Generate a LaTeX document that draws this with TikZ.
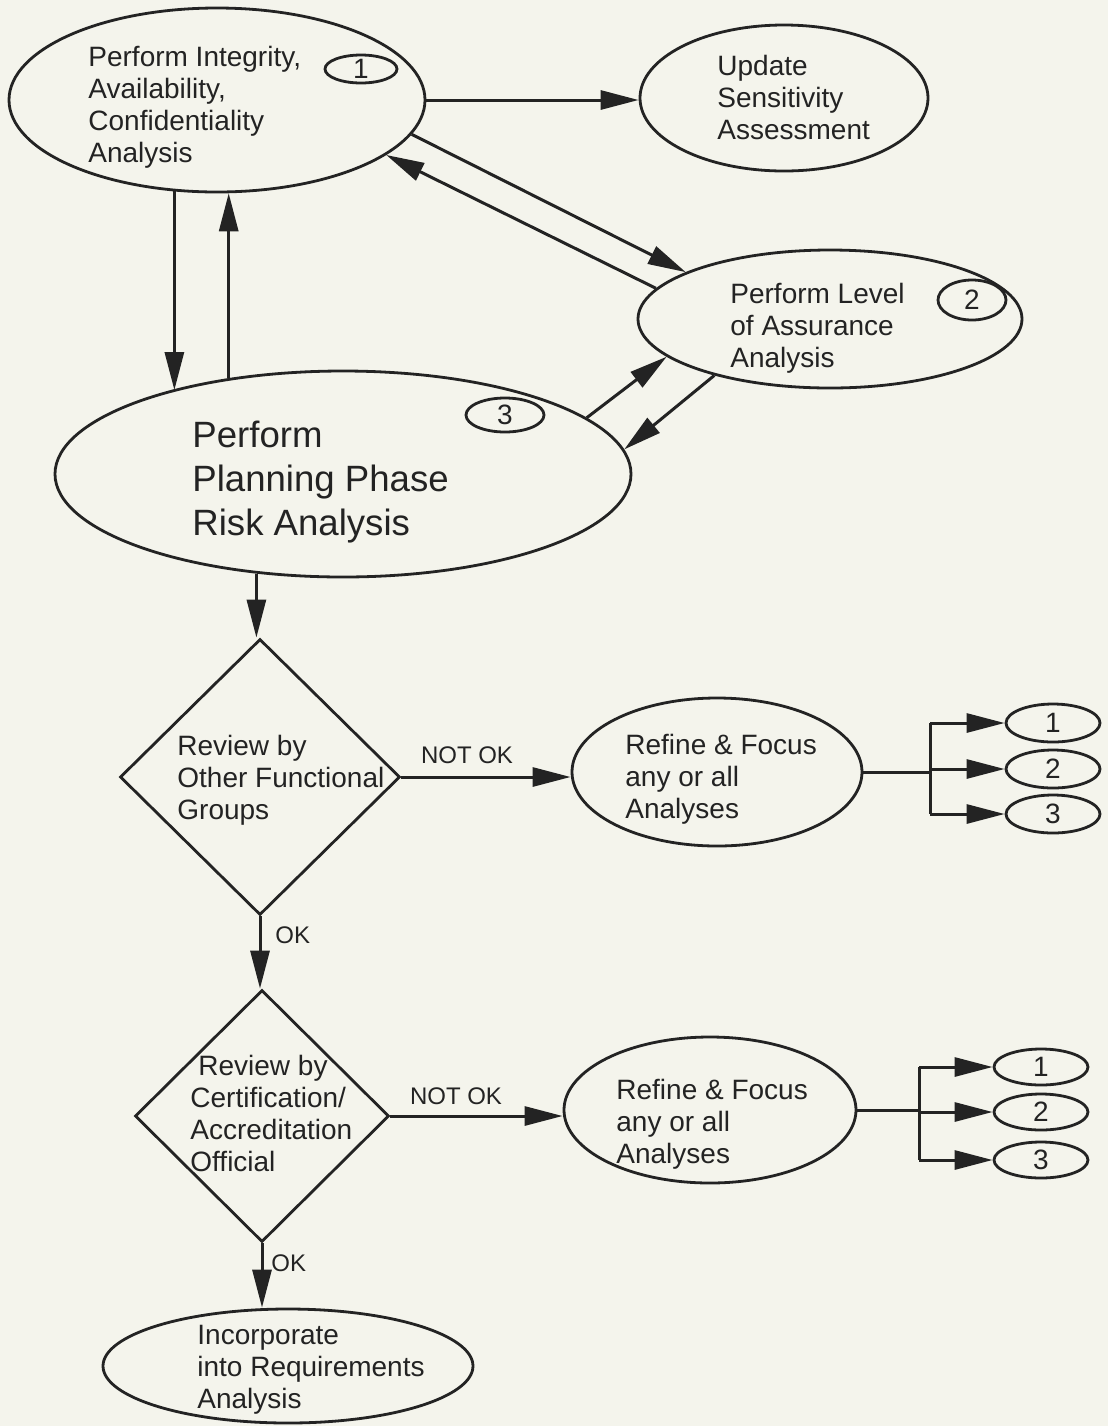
\documentclass[tikz,border=0pt]{standalone}
\usepackage{fontspec}
\setmainfont{Liberation Sans}
\usetikzlibrary{shapes.geometric,arrows.meta}
\definecolor{bgc}{RGB}{244,244,236}
\definecolor{ink}{RGB}{35,35,35}
\begin{document}
\begin{tikzpicture}[x=0.5pt,y=-0.5pt,
  ell/.style={draw=ink,ellipse,inner sep=0pt,line width=1.4pt},
  dia/.style={draw=ink,diamond,inner sep=0pt,line width=1.4pt},
  num/.style={ell,font=\fontsize{14}{16}\selectfont,text=ink},
  txt/.style={align=left,inner sep=0pt,anchor=north west,text=ink,font=\fontsize{14}{16}\selectfont},
  bigtxt/.style={txt,font=\fontsize{18.3}{21.8}\selectfont},
  lbl/.style={inner sep=0pt,text=ink,font=\fontsize{12}{14}\selectfont},
  arr/.style={draw=ink,line width=1.5pt,-{Triangle[length=19pt,width=9.5pt]}},
  ln/.style={draw=ink,line width=1.5pt}]
\fill[bgc] (0,0) rectangle (1108,1426);
\useasboundingbox (0,0) rectangle (1108,1426);

% main ellipses
\node[ell,minimum width=208pt,minimum height=92pt] (e1) at (217,100) {};
\node[ell,minimum width=144pt,minimum height=73pt] (upd) at (784,98) {};
\node[ell,minimum width=192pt,minimum height=69pt] (e2) at (830,319) {};
\node[ell,minimum width=288pt,minimum height=103pt] (e3) at (343,474) {};
\node[dia,minimum width=140pt,minimum height=138pt] (d1) at (260,777) {};
\node[ell,minimum width=145pt,minimum height=74pt] (r1) at (717,772) {};
\node[dia,minimum width=127pt,minimum height=126pt] (d2) at (262,1116) {};
\node[ell,minimum width=146pt,minimum height=73pt] (r2) at (710,1110) {};
\node[ell,minimum width=185pt,minimum height=57pt] (fin) at (288,1366) {};

% number tags
\node[num,minimum width=36pt,minimum height=14pt] (c1) at (361,69) {1};
\node[num,minimum width=34pt,minimum height=20pt] (c2) at (972,300) {2};
\node[num,minimum width=39pt,minimum height=17pt] (c3) at (505,415) {3};
\node[num,minimum width=47pt,minimum height=19pt] (n11) at (1053,723) {1};
\node[num,minimum width=47pt,minimum height=19pt] (n12) at (1053,769) {2};
\node[num,minimum width=47pt,minimum height=19pt] (n13) at (1053,814) {3};
\node[num,minimum width=47pt,minimum height=18pt] (n21) at (1041,1067) {1};
\node[num,minimum width=47pt,minimum height=18pt] (n22) at (1041,1112) {2};
\node[num,minimum width=47pt,minimum height=18pt] (n23) at (1041,1160) {3};

% texts
\node[txt] (t1) at (88,46) {Perform Integrity,\\Availability,\\Confidentiality\\Analysis};
\node[txt] (tu) at (717,55) {Update\\Sensitivity\\Assessment};
\node[txt] (t2) at (730,283) {Perform Level\\of Assurance\\Analysis};
\node[bigtxt] (t3) at (192,421) {Perform\\Planning Phase\\Risk Analysis};
\node[txt] (td1) at (177,735) {Review by\\Other Functional\\Groups};
\node[txt] (tr1) at (625,734) {Refine \& Focus\\any or all\\Analyses};
\node[txt] (td2) at (190,1055) {\hspace*{4pt}Review by\\Certification/\\Accreditation\\Official};
\node[txt] (tr2) at (616,1079) {Refine \& Focus\\any or all\\Analyses};
\node[txt] (tf) at (197,1325) {Incorporate\\into Requirements\\Analysis};

% labels
\node[lbl] (nok1) at (467,755) {NOT OK};
\node[lbl] (nok2) at (456,1096) {NOT OK};
\node[lbl,anchor=west] (ok1) at (275,935) {OK};
\node[lbl,anchor=west] (ok2) at (271,1263) {OK};

% connectors top
\draw[arr] (e1.east) -- (e1.east -| upd.west);
\draw[arr] (e1.-10) -- (e2.162);
\draw[arr] (e2.170) -- (e1.-18);
\draw[arr] (e1.245) -- (e1.245 |- e3.154);
\draw[arr] (e3.140) -- (e3.140 |- e1.277);
\draw[arr] (e3.13) -- (e2.193);
\draw[arr] (e2.206) -- (e3.5);
\draw[arr] (e3.229) -- (e3.229 |- d1.north);

% review 1
\draw[arr] (d1.east) -- (d1.east -| r1.west);
\coordinate (b1) at (930,772);
\draw[ln] (r1.east) -- (b1);
\draw[ln] (b1 |- n11.west) -- (b1 |- n13.west);
\draw[arr] (b1 |- n11.west) -- (n11.west);
\draw[arr] (b1 |- n12.west) -- (n12.west);
\draw[arr] (b1 |- n13.west) -- (n13.west);
\draw[arr] (d1.south) -- (d1.south |- d2.north);

% review 2
\draw[arr] (d2.east) -- (d2.east -| r2.west);
\coordinate (b2) at (919,1110);
\draw[ln] (r2.east) -- (b2);
\draw[ln] (b2 |- n21.west) -- (b2 |- n23.west);
\draw[arr] (b2 |- n21.west) -- (n21.west);
\draw[arr] (b2 |- n22.west) -- (n22.west);
\draw[arr] (b2 |- n23.west) -- (n23.west);
\draw[arr] (d2.south) -- (d2.south |- fin.north);
\end{tikzpicture}
\end{document}
